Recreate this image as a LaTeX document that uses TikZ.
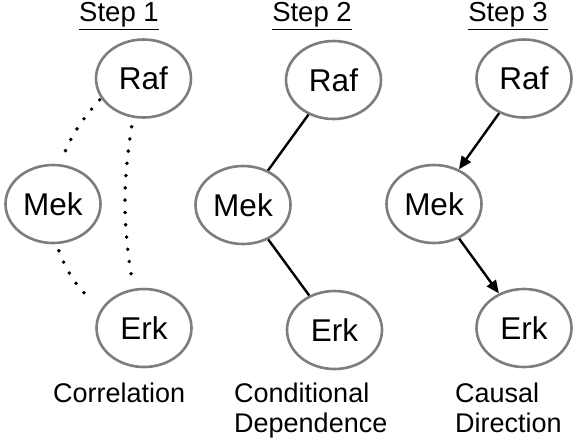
\documentclass[tikz,border=0pt]{standalone}
\usepackage{fontspec}
\setmainfont{Liberation Sans}
\usetikzlibrary{shapes.geometric,arrows.meta}
\tikzset{
  var/.style={ellipse, draw=ellgray, line width=2.6pt, minimum width=95pt, minimum height=78pt, inner sep=0pt, font=\fontsize{31.5}{36}\selectfont},
  hdr/.style={font=\fontsize{27.5}{32}\selectfont, inner sep=0pt},
  lbl/.style={font=\fontsize{27}{29.5}\selectfont, align=left, inner sep=0pt, anchor=north west},
  dotline/.style={line width=3.9pt, line cap=round, dash pattern=on 0pt off 12.3pt},
  solidline/.style={line width=2.4pt},
  arrowline/.style={line width=2.4pt, -{Triangle[length=13pt,width=11pt]}},
}
\definecolor{ellgray}{RGB}{125,125,125}
\begin{document}
\begin{tikzpicture}[x=1pt,y=-1pt]
\useasboundingbox (0,0) rectangle (578,445);
% Step 1
\node[hdr] (h1) at (119,16) {\underline{Step 1}};
\node[var] (raf1) at (143.5,78.5) {Raf};
\node[var] (mek1) at (53,204) {Mek};
\node[var] (erk1) at (144,328) {Erk};
\draw[dotline, shorten <=2pt, shorten >=12pt] (raf1.205) to[bend right=10] (mek1.80);
\draw[dotline, shorten <=9pt, shorten >=11pt] (raf1.255) to[bend right=9] (erk1.105);
\draw[dotline, shorten <=7pt, shorten >=12pt] (mek1.275) to[bend right=15] (erk1.155);
\node[lbl] (l1) at (53,383) {Correlation};
% Step 2
\node[hdr] (h2) at (312,16) {\underline{Step 2}};
\node[var] (raf2) at (333.5,80) {Raf};
\node[var] (mek2) at (243,205) {Mek};
\node[var] (erk2) at (334.5,330) {Erk};
\draw[solidline] (raf2) -- (mek2);
\draw[solidline] (mek2) -- (erk2);
\node[lbl] (l2) at (234,383) {Conditional\\Dependence};
% Step 3
\node[hdr] (h3) at (508,16) {\underline{Step 3}};
\node[var] (raf3) at (524,78.5) {Raf};
\node[var] (mek3) at (434,204) {Mek};
\node[var] (erk3) at (524,328) {Erk};
\draw[arrowline] (raf3) -- (mek3);
\draw[arrowline] (mek3) -- (erk3);
\node[lbl] (l3) at (455,383) {Causal\\Direction};
\end{tikzpicture}
\end{document}
